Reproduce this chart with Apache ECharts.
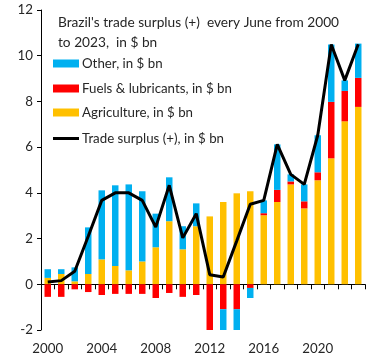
<!DOCTYPE html>
<html><head><meta charset="utf-8">
<script src="https://cdn.jsdelivr.net/npm/echarts@6/dist/echarts.min.js"></script>
<style>html,body{margin:0;padding:0;background:#fff}#c{width:384px;height:360px}</style>
</head><body><div id="c"></div>
<script>
const years = ['2000','2001','2002','2003','2004','2005','2006','2007','2008','2009','2010','2011','2012','2013','2014','2015','2016','2017','2018','2019','2020','2021','2022','2023'];
const agriculture = [0.28,0.45,0.13,0.45,1.09,0.80,0.61,1.00,1.62,2.76,1.53,2.54,2.97,3.60,3.98,4.07,3.02,3.60,4.37,3.32,4.55,5.51,7.13,7.76];
const fuels = [-0.55,-0.55,-0.22,-0.34,-0.47,-0.42,-0.42,-0.42,-0.60,-0.38,-0.55,-0.47,-2.55,-1.09,-1.09,-0.16,0.09,0.53,0.13,0.31,0.35,2.47,1.33,1.27];
const other = [0.38,0.21,0.61,2.04,3.02,3.53,3.76,3.07,1.47,1.92,1.01,1.00,0,-2.19,-0.99,-0.44,0.56,1.99,0.31,0.74,1.62,2.51,0.46,1.50];
const surplus = [0.10,0.16,0.57,2.10,3.67,4.00,4.00,3.67,2.50,4.33,2.03,3.09,0.42,0.32,1.90,3.50,3.67,6.12,4.81,4.37,6.52,10.49,8.92,10.50];
const titleText = "Brazil's trade surplus (+)  every June from 2000\nto 2023,  in $ bn";

const FONT = 'Lato';
const TXT = '#262626';
const chart = echarts.init(document.getElementById('c'), null, {renderer:'canvas'});
function lg(name, top, h, icon){
  return {show:true, data:[{name:name, icon:icon}], orient:'vertical', left:53, top:top, padding:0,
    itemWidth:26, itemHeight:h, itemGap:0, selectedMode:false,
    textStyle:{fontFamily:FONT, fontSize:13.3, color:TXT, padding:[0,0,0,-2]}};
}
chart.setOption({
  animation:false,
  textStyle:{fontFamily:FONT},
  title:{text:titleText, left:58, top:13, padding:0,
    textStyle:{fontFamily:FONT, fontSize:13.7, fontWeight:'normal', color:TXT, lineHeight:20}},
  legend:[
    lg('Other, in $ bn', 57, 8, 'rect'),
    lg('Fuels & lubricants, in $ bn', 82, 8, 'rect'),
    lg('Agriculture, in $ bn', 106, 8, 'rect'),
    lg('Trade surplus (+), in $ bn', 132, 3, 'rect')
  ],
  grid:{left:41, right:19, top:10, bottom:30},
  xAxis:[
    {type:'category', data:years, position:'bottom',
      axisLine:{show:false, onZero:false}, axisTick:{show:false},
      axisLabel:{interval:3, margin:12, fontFamily:FONT, fontSize:13.3, color:TXT}},
    {type:'category', data:years, position:'bottom',
      axisLine:{show:true, onZero:true, lineStyle:{color:'#000', width:1}},
      axisTick:{show:true, interval:0, length:5, lineStyle:{color:'#000'}},
      axisLabel:{show:false}}
  ],
  yAxis:{type:'value', min:-2, max:12, interval:2,
    axisLine:{show:true, lineStyle:{color:'#000'}},
    axisTick:{show:true, length:4, lineStyle:{color:'#000'}},
    splitLine:{show:false},
    axisLabel:{margin:8, fontFamily:FONT, fontSize:13.3, color:TXT}},
  series:[
    {name:'Agriculture, in $ bn', type:'bar', stack:'s', data:agriculture, barCategoryGap:'52%', itemStyle:{color:'#FFC000'}},
    {name:'Fuels & lubricants, in $ bn', type:'bar', stack:'s', data:fuels, itemStyle:{color:'#FF0000'}},
    {name:'Other, in $ bn', type:'bar', stack:'s', data:other, itemStyle:{color:'#00B0F0'}},
    {name:'Trade surplus (+), in $ bn', type:'line', data:surplus, symbol:'none', z:5,
      lineStyle:{color:'#000', width:3}, itemStyle:{color:'#000'}}
  ]
});
</script></body></html>
